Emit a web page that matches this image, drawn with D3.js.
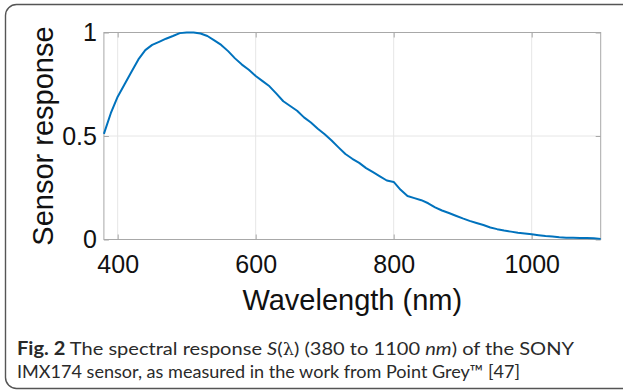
<!DOCTYPE html>
<html>
<head>
<meta charset="utf-8">
<script src="https://cdn.jsdelivr.net/npm/d3@7"></script>
<style>
body { margin: 0; background: #fff; }
svg { display: block; }
.axis text { font-family: "Liberation Sans", Arial, sans-serif; fill: #111; }
</style>
</head>
<body>
<svg id="fig" width="623" height="391"></svg>
<script>
// wavelength samples (nm) and the sensor response
var wavelengths = [380,390,400,410,420,430,440,450,460,470,480,490,500,510,520,530,540,550,560,570,
  580,590,600,610,620,630,640,650,660,670,680,690,700,710,720,730,740,750,760,770,
  780,790,800,810,820,830,840,850,860,870,880,890,900,910,920,930,940,950,960,970,
  980,990,1000,1010,1020,1030,1040,1050,1060,1070,1080,1090,1100];
var response = [0.51,0.61,0.69,0.75,0.81,0.87,0.915,0.94,0.955,0.97,0.983,0.997,1.0,1.0,0.995,0.983,0.962,0.94,0.91,0.875,
  0.845,0.82,0.79,0.765,0.74,0.705,0.668,0.645,0.622,0.59,0.565,0.535,0.508,0.478,0.445,0.413,0.39,0.37,0.345,0.325,
  0.305,0.285,0.278,0.24,0.21,0.2,0.19,0.175,0.155,0.14,0.128,0.115,0.102,0.09,0.08,0.07,0.058,0.05,0.043,0.038,
  0.033,0.029,0.025,0.021,0.017,0.014,0.011,0.009,0.008,0.007,0.007,0.006,0.003];
var xTicks = [400, 600, 800, 1000];
var xTickLabels = ["400", "600", "800", "1000"];
var yTicks = [0, 0.5, 1];
var yTickLabels = ["0", "0.5", "1"];

var svg = d3.select("#fig"),
    margin = {top: 32.5, left: 103.9},
    width = 496.8,
    height = 207,
    g = svg.append("g").attr("transform", "translate(" + margin.left + "," + margin.top + ")");

// outer frame of the figure
svg.append("rect")
    .attr("x", 5.5).attr("y", 4.5)
    .attr("width", 660).attr("height", 384)
    .attr("rx", 11)
    .attr("fill", "none")
    .attr("stroke", "#555")
    .attr("stroke-width", 1.4);

var x = d3.scaleLinear().domain([380, 1100]).range([0, width]);
var y = d3.scaleLinear().domain([0, 1]).range([height, 0]);

// grid
g.append("g").selectAll("line").data(xTicks).enter().append("line")
    .attr("x1", function(d) { return x(d); }).attr("x2", function(d) { return x(d); })
    .attr("y1", 0).attr("y2", height)
    .attr("stroke", "#e6e6e6");
g.append("g").selectAll("line").data(yTicks).enter().append("line")
    .attr("x1", 0).attr("x2", width)
    .attr("y1", function(d) { return y(d); }).attr("y2", function(d) { return y(d); })
    .attr("stroke", "#e6e6e6");

// axes (ticks point inward, MATLAB style)
g.append("g")
    .attr("class", "axis")
    .attr("transform", "translate(0," + height + ")")
    .call(d3.axisBottom(x).tickValues(xTicks).tickSizeInner(-5).tickSizeOuter(0).tickPadding(15.5)
        .tickFormat(function(d, i) { return xTickLabels[i]; }));
g.append("g")
    .attr("class", "axis")
    .call(d3.axisTop(x).tickValues(xTicks).tickSizeInner(-5).tickSizeOuter(0).tickFormat(""));
g.append("g")
    .attr("class", "axis")
    .call(d3.axisLeft(y).tickValues(yTicks).tickSizeInner(-5).tickSizeOuter(0).tickPadding(7)
        .tickFormat(function(d, i) { return yTickLabels[i]; }));
g.append("g")
    .attr("class", "axis")
    .attr("transform", "translate(" + width + ",0)")
    .call(d3.axisRight(y).tickValues(yTicks).tickSizeInner(-5).tickSizeOuter(0).tickFormat(""));

g.selectAll(".axis .domain").remove();
g.selectAll(".axis line").attr("stroke", "#a8a8a8");
g.selectAll(".axis text").attr("font-size", 25);

g.append("rect")
    .attr("width", width).attr("height", height)
    .attr("fill", "none")
    .attr("stroke", "#a8a8a8");

// curve
var pts = wavelengths.map(function(w, i) { return [w, response[i]]; });
g.append("path")
    .datum(pts)
    .attr("fill", "none")
    .attr("stroke", "#0072bd")
    .attr("stroke-width", 2)
    .attr("stroke-linejoin", "round")
    .attr("d", d3.line()
        .x(function(d) { return x(d[0]); })
        .y(function(d) { return y(d[1]); }));

// axis labels
g.append("text")
    .attr("x", width / 2)
    .attr("y", height + 70)
    .attr("text-anchor", "middle")
    .attr("font-family", "Liberation Sans, Arial, sans-serif")
    .attr("font-size", 29)
    .attr("fill", "#111")
    .text("Wavelength (nm)");

g.append("text")
    .attr("transform", "translate(" + (52.5 - margin.left) + "," + (height / 2) + ") rotate(-90)")
    .attr("text-anchor", "middle")
    .attr("font-family", "Liberation Sans, Arial, sans-serif")
    .attr("font-size", 29)
    .attr("fill", "#111")
    .text("Sensor response");

// caption
var cap = svg.append("g")
    .attr("font-family", "Lato, 'Open Sans', sans-serif")
    .attr("font-size", 18)
    .attr("fill", "#2a2a2a");

var l1 = cap.append("text").attr("x", 17).attr("y", 355)
    .attr("textLength", 557).attr("lengthAdjust", "spacingAndGlyphs");
l1.append("tspan").attr("font-weight", "bold").text("Fig. 2");
l1.append("tspan").text(" The spectral response ");
l1.append("tspan").attr("font-style", "italic").text("S");
l1.append("tspan").text("(");
l1.append("tspan").attr("font-family", "DejaVu Serif, serif").attr("font-size", 16).text("λ");
l1.append("tspan").text(") (380 to 1100 ");
l1.append("tspan").attr("font-style", "italic").text("nm");
l1.append("tspan").text(") of the SONY");

var l2 = cap.append("text").attr("x", 17).attr("y", 378)
    .attr("textLength", 503).attr("lengthAdjust", "spacingAndGlyphs");
l2.append("tspan").text("IMX174 sensor, as measured in the work from Point Grey™ [47]");
</script>
</body>
</html>
